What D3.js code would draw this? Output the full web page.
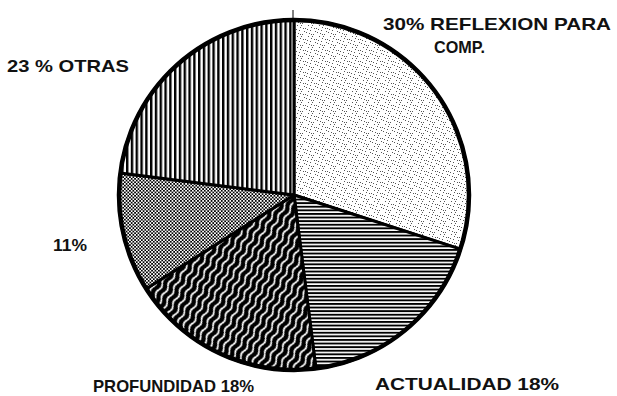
<!DOCTYPE html>
<html>
<head>
<meta charset="utf-8">
<script src="https://cdn.jsdelivr.net/npm/d3@7"></script>
<style>
  html, body { margin: 0; padding: 0; background: #fff; }
  svg { display: block; }
  text { font-family: "Liberation Sans", Arial, sans-serif; font-weight: bold; fill: #111; }
</style>
</head>
<body>
<svg id="chart" width="617" height="396"></svg>
<script>
// ---- data ----
const categories = ["REFLEXION PARA COMP.", "ACTUALIDAD", "PROFUNDIDAD", "SIN NOMBRE", "OTRAS"];
const values = [30, 18, 18, 11, 23];
const patterns = ["stipple", "hlines", "waves", "dots", "vlines"];
const labelLines = [
  ["30% REFLEXION PARA", "COMP."],
  ["ACTUALIDAD 18%"],
  ["PROFUNDIDAD 18%"],
  ["11%"],
  ["23 % OTRAS"]
];

// ---- layout ----
const W = 617, H = 396;
const cx = 294, cy = 195, R = 175;
const labelLayout = [
  [{x: 383, y: 30, w: 228}, {x: 434, y: 53, w: 51}],
  [{x: 375, y: 390, w: 184}],
  [{x: 93, y: 392, w: 161}],
  [{x: 53, y: 251, w: 34}],
  [{x: 7, y: 72, w: 122}]
];

const svg = d3.select("#chart");
const defs = svg.append("defs");

// stipple pattern
const pSt = defs.append("pattern").attr("id", "stipple").attr("patternUnits", "userSpaceOnUse")
  .attr("width", 11).attr("height", 11);
pSt.append("rect").attr("width", 11).attr("height", 11).attr("fill", "#fff");
[[1,2],[5,0],[8,4],[3,6],[9,9],[6,8],[0,9],[4,3],[10,1],[7,6],[2,10],[6,4]].forEach(([x,y]) =>
  pSt.append("rect").attr("x", x).attr("y", y).attr("width", 1).attr("height", 1).attr("fill", "#555"));

// horizontal lines
const pH = defs.append("pattern").attr("id", "hlines").attr("patternUnits", "userSpaceOnUse")
  .attr("width", 10).attr("height", 3.6);
pH.append("rect").attr("width", 10).attr("height", 3.6).attr("fill", "#fff");
pH.append("rect").attr("width", 10).attr("height", 1.9).attr("fill", "#000");

// vertical lines
const pV = defs.append("pattern").attr("id", "vlines").attr("patternUnits", "userSpaceOnUse")
  .attr("width", 4.8).attr("height", 10);
pV.append("rect").attr("width", 4.8).attr("height", 10).attr("fill", "#fff");
pV.append("rect").attr("width", 2.4).attr("height", 10).attr("fill", "#000");

// dots checker
const pD = defs.append("pattern").attr("id", "dots").attr("patternUnits", "userSpaceOnUse")
  .attr("width", 3.4).attr("height", 3.4);
pD.append("rect").attr("width", 3.4).attr("height", 3.4).attr("fill", "#fff");
pD.append("rect").attr("width", 1.7).attr("height", 1.7).attr("fill", "#000");
pD.append("rect").attr("x", 1.7).attr("y", 1.7).attr("width", 1.7).attr("height", 1.7).attr("fill", "#000");

// wavy lines
const pW = defs.append("pattern").attr("id", "waves").attr("patternUnits", "userSpaceOnUse")
  .attr("width", 14).attr("height", 6.5).attr("patternTransform", "rotate(-62)");
pW.append("rect").attr("width", 14).attr("height", 6.5).attr("fill", "#000");
pW.append("path").attr("d", "M0,3.25 Q3.5,0.9 7,3.25 T14,3.25")
  .attr("fill", "none").attr("stroke", "#fff").attr("stroke-width", 1.7);

// ---- pie ----
const pie = d3.pie().sort(null).value(d => d).startAngle(0).endAngle(2 * Math.PI);
const arcs = pie(values);
const arc = d3.arc().innerRadius(0).outerRadius(R);

const g = svg.append("g").attr("transform", `translate(${cx},${cy})`);
g.selectAll("path.slice").data(arcs).join("path")
  .attr("class", "slice")
  .attr("d", arc)
  .attr("fill", (d, i) => `url(#${patterns[i]})`)
  .attr("stroke", "#000")
  .attr("stroke-width", 3)
  .attr("stroke-linejoin", "round");

g.append("circle").attr("r", R).attr("fill", "none").attr("stroke", "#000").attr("stroke-width", 4.5);

// small tick above the top
g.append("line").attr("x1", -1).attr("x2", -1).attr("y1", -R - 10).attr("y2", -R)
  .attr("stroke", "#000").attr("stroke-width", 1);

// ---- labels ----
labelLines.forEach((lines, i) => {
  lines.forEach((t, j) => {
    const L = labelLayout[i][j];
    svg.append("text")
      .attr("x", L.x).attr("y", L.y)
      .attr("font-size", 17)
      .attr("textLength", L.w)
      .attr("lengthAdjust", "spacingAndGlyphs")
      .text(t);
  });
});
</script>
</body>
</html>
